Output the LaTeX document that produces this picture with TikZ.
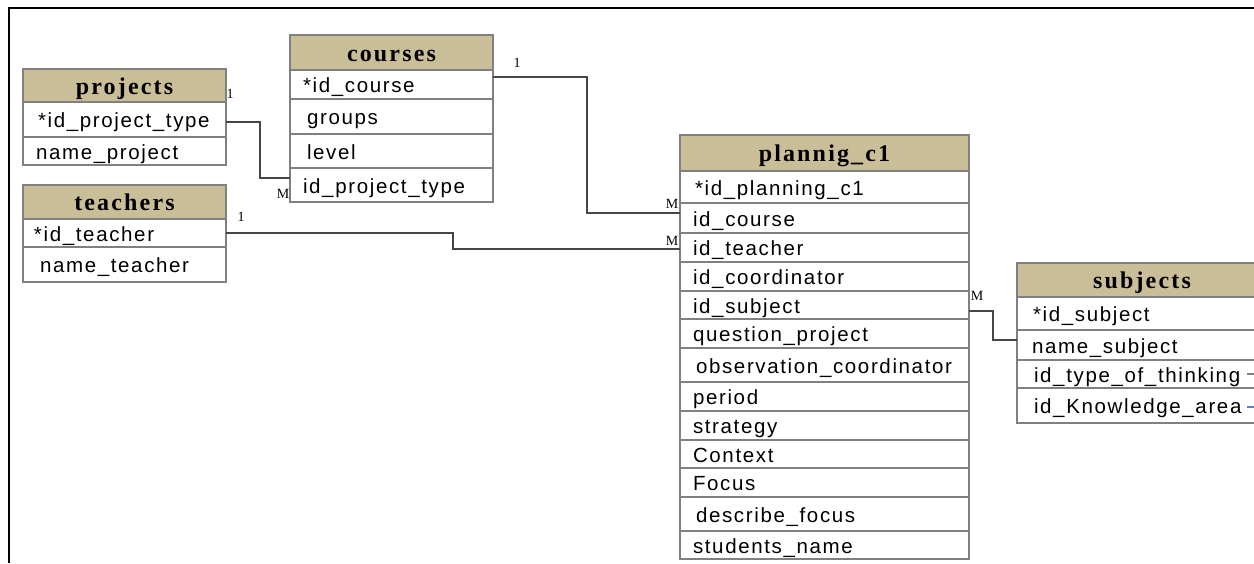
\documentclass[tikz,border=0pt]{standalone}
\usepackage{fontspec}
\newfontfamily\fieldfont[LetterSpace=8]{Liberation Sans}
\newfontfamily\headfont[LetterSpace=9]{Liberation Serif}
\newfontfamily\cardfont{Liberation Serif}
\hyphenpenalty=10000
\exhyphenpenalty=10000

\definecolor{hdrtan}{RGB}{201,190,152}
\definecolor{tblgray}{RGB}{128,128,128}
\definecolor{linkgray}{RGB}{70,70,70}
\definecolor{fkblue}{RGB}{90,130,200}

\tikzset{
  every node/.style={outer sep=0pt},
  tablebox/.style={draw=tblgray, line width=1.6pt, rectangle, inner ysep=0pt},
  headcell/.style={tablebox, fill=hdrtan, inner xsep=0pt,
    font=\headfont\bfseries\fontsize{24}{24}\selectfont,
    text height=20.8pt, text depth=3.2pt},
  fieldcell/.style={tablebox, fill=white, align=left,
    font=\fieldfont\fontsize{20.5}{20.5}\selectfont,
    text height=18.25pt, text depth=2.25pt},
  link/.style={draw=linkgray, line width=1.8pt},
  card/.style={font=\cardfont\fontsize{14}{14}\selectfont, inner sep=0pt},
  frameline/.style={draw=black, line width=2.5pt},
}

% header cell: name, x1, y1, x2, y2, title
\newcommand\headrow[6]{%
  \pgfmathsetmacro\cellw{#4-#2}%
  \pgfmathsetmacro\cellh{#5-#3}%
  \node[headcell, minimum width=\cellw pt, minimum height=\cellh pt]
    (#1) at ({(#2+#4)/2},{(#3+#5)/2}) {#6};}

% field cell: [left padding], name, x1, y1, x2, y2, text
\newcommand\fieldrow[7][13]{%
  \pgfmathsetmacro\cellw{#5-#3}%
  \pgfmathsetmacro\cellh{#6-#4}%
  \pgfmathsetmacro\cellt{#5-#3-2*#1}%
  \node[fieldcell, inner xsep=#1pt, minimum width=\cellw pt,
        minimum height=\cellh pt, text width=\cellt pt]
    (#2) at ({(#3+#5)/2},{(#4+#6)/2}) {#7};}

\begin{document}
\begin{tikzpicture}[x=1pt, y=-1pt]
\useasboundingbox (0,0) rectangle (1254,563);
\clip (0,0) rectangle (1254,563);

% outer frame
\draw[frameline] (9,563) -- (9,8) -- (1254,8);

% projects
\headrow{proj}{23}{69}{226}{102}{projects}
\fieldrow[15]{proj-id}{23}{102}{226}{137}{*id\_project\_type}
\fieldrow{proj-name}{23}{137}{226}{165}{name\_project}

% teachers
\headrow{tch}{23}{185}{226}{219}{teachers}
\fieldrow[11]{tch-id}{23}{219}{226}{247}{*id\_teacher}
\fieldrow[17]{tch-name}{23}{247}{226}{282}{name\_teacher}

% courses
\headrow{crs}{290}{35}{493}{70}{courses}
\fieldrow{crs-id}{290}{70}{493}{99}{*id\_course}
\fieldrow[17]{crs-groups}{290}{99}{493}{134}{groups}
\fieldrow[17]{crs-level}{290}{134}{493}{168}{level}
\fieldrow{crs-ptype}{290}{168}{493}{202}{id\_project\_type}

% plannig_c1
\headrow{pl}{680}{135}{969}{171}{plannig\_c1}
\fieldrow[15]{pl-id}{680}{171}{969}{203}{*id\_planning\_c1}
\fieldrow{pl-course}{680}{203}{969}{233}{id\_course}
\fieldrow{pl-teacher}{680}{233}{969}{262}{id\_teacher}
\fieldrow{pl-coord}{680}{262}{969}{291}{id\_coordinator}
\fieldrow{pl-subject}{680}{291}{969}{319}{id\_subject}
\fieldrow{pl-question}{680}{319}{969}{348}{question\_project}
\fieldrow[16]{pl-obs}{680}{348}{969}{382}{observation\_coordinator}
\fieldrow{pl-period}{680}{382}{969}{411}{period}
\fieldrow{pl-strategy}{680}{411}{969}{440}{strategy}
\fieldrow{pl-context}{680}{440}{969}{468}{Context}
\fieldrow{pl-focus}{680}{468}{969}{497}{Focus}
\fieldrow[16]{pl-describe}{680}{497}{969}{531}{describe\_focus}
\fieldrow{pl-students}{680}{531}{969}{559}{students\_name}

% subjects
\headrow{sub}{1017}{263}{1267}{297}{subjects}
\fieldrow[16]{sub-id}{1017}{297}{1267}{330}{*id\_subject}
\fieldrow[15]{sub-name}{1017}{330}{1267}{360}{name\_subject}
\fieldrow[17]{sub-thinking}{1017}{360}{1267}{388}{id\_type\_of\_thinking}
\fieldrow[17]{sub-area}{1017}{388}{1267}{423}{id\_Knowledge\_area}
\draw[draw=tblgray, line width=1.2pt] (1247,374) -- (1254,374);
\draw[draw=fkblue, line width=1.2pt] (1247,407) -- (1254,407);

% relationships
\draw[link] ([yshift=-2.5pt]proj-id.east) -- ++(34,0) |- ([yshift=7pt]crs-ptype.west);
\draw[link] (tch-id.east) -- ++(227,0) |- ([yshift=-1.5pt]pl-teacher.west);
\draw[link] ([yshift=7.5pt]crs-id.east) -- ++(94,0) |- ([yshift=5pt]pl-course.west);
\draw[link] ([yshift=5pt]sub-name.west) -- ++(-24,0) |- ([yshift=-6pt]pl-subject.east);

% cardinalities
\node[card] (k-proj) at (230,94) {1};
\node[card] (k-crs-m) at (283,194) {M};
\node[card] (k-tch) at (241,217) {1};
\node[card] (k-crs) at (517,63) {1};
\node[card] (k-pl-crs) at (672,204) {M};
\node[card] (k-pl-tch) at (672,241) {M};
\node[card] (k-sub) at (977,296) {M};
\end{tikzpicture}
\end{document}
